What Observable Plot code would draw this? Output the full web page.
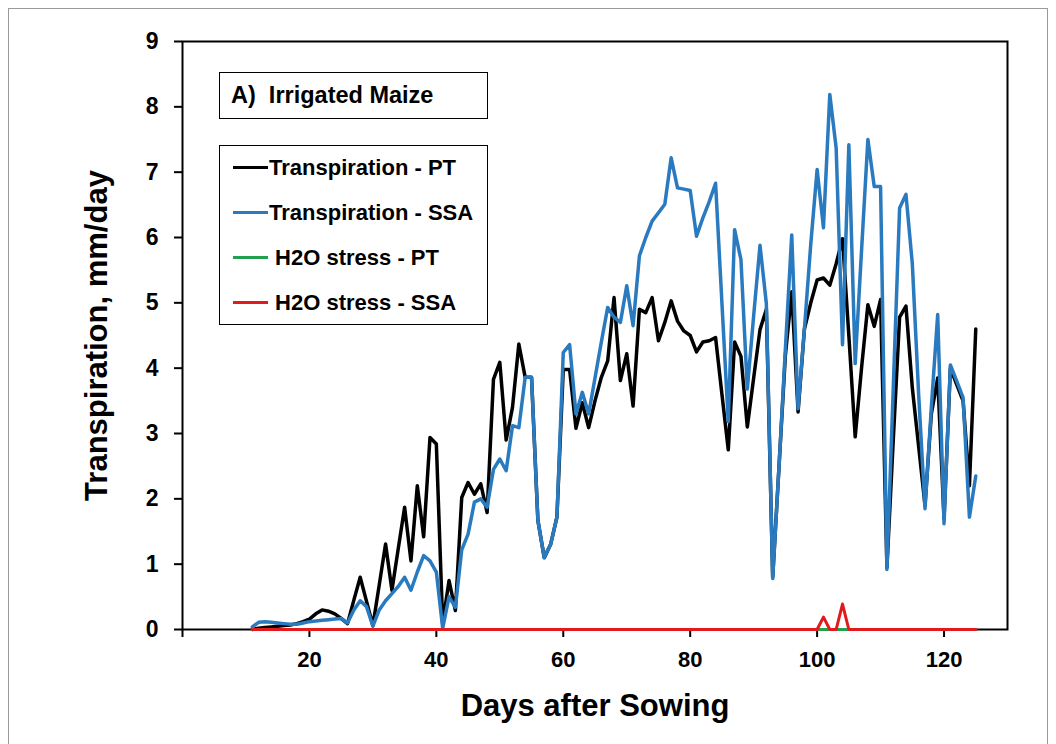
<!DOCTYPE html>
<html>
<head>
<meta charset="utf-8">
<script src="https://cdn.jsdelivr.net/npm/d3@7"></script>
<script src="https://cdn.jsdelivr.net/npm/@observablehq/plot@0.6"></script>
<style>
  html, body { margin: 0; padding: 0; background: #fff; overflow: hidden; }
  #wrap { position: relative; width: 1056px; height: 744px; font-family: "Liberation Sans", Arial, sans-serif; }
  #outer { position: absolute; left: 8px; top: 8px; width: 1040px; height: 800px; border: 1px solid #9a9a9a; box-sizing: border-box; pointer-events: none; }
  .box { position: absolute; border: 1.5px solid #000; box-sizing: border-box; background: #fff; font-weight: bold; color: #000; }
  #titleBox { left: 219px; top: 72px; width: 269px; height: 47px; font-size: 23.5px; line-height: 44px; padding-left: 11px; white-space: pre; }
  #legendBox { left: 219px; top: 145px; width: 269px; height: 180px; }
  .item { position: absolute; left: 0; height: 30px; font-size: 22px; line-height: 30px; white-space: pre; }
  .sw { position: absolute; left: 13px; width: 35px; height: 3px; top: 13.5px; }
  .lab { position: absolute; top: 0; }
</style>
</head>
<body>
<div id="wrap">
  <div id="chart"></div>
  <div id="titleBox" class="box"></div>
  <div id="legendBox" class="box"></div>
  <div id="outer"></div>
</div>
<script>
// ---- data ----
const days = [11,12,13,14,15,16,17,18,19,20,21,22,23,24,25,26,27,28,29,30,
  31,32,33,34,35,36,37,38,39,40,41,42,43,44,45,46,47,48,49,50,
  51,52,53,54,55,56,57,58,59,60,61,62,63,64,65,66,67,68,69,70,
  71,72,73,74,75,76,77,78,79,80,81,82,83,84,85,86,87,88,89,90,
  91,92,93,94,95,96,97,98,99,100,101,102,103,104,105,106,107,108,109,110,
  111,112,113,114,115,116,117,118,119,120,121,122,123,124,125];

const transpirationPT = [0.00,0.02,0.03,0.04,0.05,0.06,0.07,0.09,0.12,0.16,0.24,0.30,0.28,0.24,0.17,0.09,0.45,0.80,0.43,0.06,
  0.68,1.31,0.60,1.24,1.87,1.05,2.20,1.42,2.94,2.84,0.09,0.75,0.29,2.02,2.25,2.07,2.23,1.79,3.83,4.09,
  2.90,3.40,4.37,3.86,3.86,1.67,1.10,1.30,1.72,3.98,3.98,3.08,3.47,3.09,3.50,3.86,4.11,5.08,3.81,4.22,
  3.42,4.90,4.85,5.08,4.42,4.70,5.03,4.72,4.57,4.50,4.25,4.40,4.42,4.47,3.60,2.75,4.40,4.18,3.10,3.85,
  4.59,4.90,0.80,2.50,4.20,5.17,3.33,4.60,5.00,5.35,5.38,5.27,5.60,5.98,4.50,2.95,4.00,4.97,4.64,5.05,
  0.95,2.90,4.78,4.95,3.70,2.80,1.90,3.30,3.85,1.70,4.00,3.75,3.50,2.20,4.60];

const transpirationSSA = [0.04,0.11,0.12,0.11,0.10,0.09,0.08,0.08,0.10,0.12,0.13,0.14,0.15,0.16,0.17,0.10,0.30,0.44,0.35,0.05,
  0.30,0.44,0.55,0.66,0.80,0.60,0.88,1.13,1.05,0.88,0.02,0.50,0.34,1.22,1.46,1.95,2.00,1.87,2.45,2.61,
  2.43,3.12,3.09,3.86,3.86,1.67,1.10,1.30,1.72,4.24,4.36,3.30,3.63,3.30,3.85,4.40,4.93,4.78,4.70,5.26,
  4.65,5.72,6.00,6.25,6.38,6.51,7.22,6.76,6.74,6.72,6.02,6.30,6.55,6.83,5.00,3.18,6.12,5.66,3.68,4.80,
  5.88,4.99,0.78,2.50,4.30,6.04,3.38,4.60,5.90,7.04,6.15,8.19,7.37,4.36,7.42,4.07,5.80,7.50,6.78,6.78,
  0.92,3.70,6.45,6.66,5.60,3.60,1.85,3.40,4.82,1.62,4.05,3.80,3.55,1.72,2.35];

const stressPTDays = [11, 125];
const stressPT = [0, 0];
const stressSSADays = [11, 100, 101, 102, 103, 104, 105, 125];
const stressSSA = [0, 0, 0.19, 0, 0, 0.39, 0, 0];

const xTicks = [0, 20, 40, 60, 80, 100, 120];
const yTicks = [0, 1, 2, 3, 4, 5, 6, 7, 8, 9];

const seriesNames = ["Transpiration - PT", "Transpiration - SSA", " H2O stress - PT", " H2O stress - SSA"];
const seriesColors = ["#000000", "#2a7abf", "#22a050", "#e31a1c"];
const panelTitle = "A)  Irrigated Maize";
const xTitle = "Days after Sowing";
const yTitle = "Transpiration, mm/day";

// ---- tables ----
const rowsPT = days.map((d, i) => ({day: d, v: transpirationPT[i]}));
const rowsSSA = days.map((d, i) => ({day: d, v: transpirationSSA[i]}));
const rowsStressPT = stressPTDays.map((d, i) => ({day: d, v: stressPT[i]}));
const rowsStressSSA = stressSSADays.map((d, i) => ({day: d, v: stressSSA[i]}));

const chart = Plot.plot({
  width: 1056,
  height: 744,
  marginLeft: 182,
  marginRight: 49,
  marginTop: 41,
  marginBottom: 115,
  style: {fontFamily: "'Liberation Sans', Arial, sans-serif", background: "transparent", color: "#000", overflow: "visible"},
  x: {domain: [0, 130]},
  y: {domain: [0, 9]},
  marks: [
    Plot.frame({stroke: "#000", strokeWidth: 2}),
    Plot.axisX(xTicks, {tickSize: 8, tickPadding: 14, fontSize: 22, fontWeight: "bold", strokeWidth: 2,
      tickFormat: d => d === 0 ? "" : String(d), label: null}),
    Plot.axisY(yTicks, {tickSize: 8, tickPadding: 16, fontSize: 23, fontWeight: "bold", strokeWidth: 2,
      tickFormat: d => String(d), label: null}),
    Plot.line(rowsPT, {x: "day", y: "v", stroke: seriesColors[0], strokeWidth: 3.5}),
    Plot.line(rowsSSA, {x: "day", y: "v", stroke: seriesColors[1], strokeWidth: 3.5}),
    Plot.line(rowsStressPT, {x: "day", y: "v", stroke: seriesColors[2], strokeWidth: 3}),
    Plot.line(rowsStressSSA, {x: "day", y: "v", stroke: seriesColors[3], strokeWidth: 3}),
    Plot.text([xTitle], {frameAnchor: "bottom", dy: 86, fontSize: 31, fontWeight: "bold", fill: "#000", textAnchor: "middle"}),
    Plot.text([yTitle], {frameAnchor: "left", dx: -85, rotate: -90, fontSize: 31, fontWeight: "bold", fill: "#000", textAnchor: "middle"})
  ]
});
document.getElementById("chart").appendChild(chart);

// ---- panel title and legend (HTML overlay) ----
document.getElementById("titleBox").textContent = panelTitle;
const lb = document.getElementById("legendBox");
const centers = [21.7, 66.7, 111.7, 156.7];
seriesNames.forEach((name, i) => {
  const it = document.createElement("div");
  it.className = "item";
  it.style.top = (centers[i] - 15) + "px";
  const sw = document.createElement("div");
  sw.className = "sw";
  sw.style.background = seriesColors[i];
  const lab = document.createElement("div");
  lab.className = "lab";
  lab.style.left = "49px";
  lab.textContent = name;
  it.appendChild(sw);
  it.appendChild(lab);
  lb.appendChild(it);
});
</script>
</body>
</html>
